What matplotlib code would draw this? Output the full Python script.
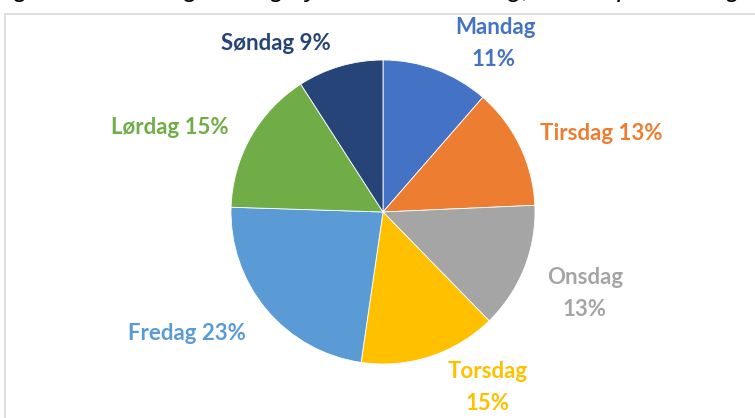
import matplotlib
matplotlib.use("Agg")
import matplotlib.pyplot as plt
from matplotlib.patches import Rectangle

# ---- data ----
days = ["Mandag", "Tirsdag", "Onsdag", "Torsdag", "Fredag", "Lørdag", "Søndag"]
shares = [11.4, 12.9, 13.4, 14.6, 23.2, 15.4, 9.1]
colors = ["#4472C4", "#ED7D31", "#A5A5A5", "#FFC000", "#5B9BD5", "#70AD47", "#264478"]
title = "Figur 6: Fordeling av dagulykker etter ukedag, fordelt på ukedager"

W, H, DPI = 755, 418, 100
fig = plt.figure(figsize=(W / DPI, H / DPI), dpi=DPI)
fig.patch.set_facecolor("white")

cx, cy, R = 383, 212, 152  # pie centre/radius in pixels
ax = fig.add_axes([0, 0, 1, 1])

ax.pie(shares, colors=colors, startangle=90, counterclock=False, radius=1.0,
       wedgeprops=dict(edgecolor="white", linewidth=0.6), center=(0, 0), frame=True)
ax.set_xlim(-cx / R, (W - cx) / R)
ax.set_ylim(-(H - cy) / R, cy / R)
ax.set_aspect("auto")
ax.axis("off")

# chart frame
fig.patches.append(Rectangle((5 / W, -0.05), 1.1, (H - 14) / H + 0.05, transform=fig.transFigure,
                             fill=False, edgecolor="#d9d9d9", linewidth=1.2))

# title partially cut off at top (as in the reference)
fig.text(-0.01, 1.0 + 3 / H, title, fontsize=19, style="italic", family="Liberation Sans",
         ha="left", va="baseline", color="black")

def px(x, y):
    return ((x - cx) / R, (cy - y) / R)

# label layouts: list of (line text, pixel position)
pct = [f"{round(v):.0f}%" for v in shares]
layout = {
    0: [(days[0], (495, 28)), (pct[0], (494, 59))],
    1: [(f"{days[1]} {pct[1]}", (601, 134))],
    2: [(days[2], (585, 278)), (pct[2], (585, 310))],
    3: [(days[3], (488, 372)), (pct[3], (488, 404))],
    4: [(f"{days[4]} {pct[4]}", (187, 333))],
    5: [(f"{days[5]} {pct[5]}", (170, 127))],
    6: [(f"{days[6]} {pct[6]}", (276, 44))],
}
for i, lines in layout.items():
    for txt, (x, y) in lines:
        ax.text(*px(x, y), txt, ha="center", va="center", color=colors[i],
                fontsize=16, fontweight="bold", family="Lato")

fig.savefig("out.png", dpi=DPI)
